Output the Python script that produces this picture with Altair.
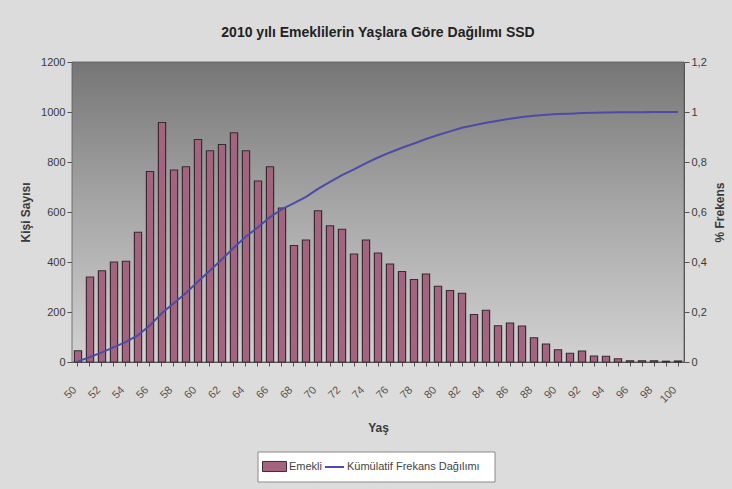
import altair as alt
import pandas as pd

# Age groups (x axis) and number of retirees per age
ages = [50, 51, 52, 53, 54, 55, 56, 57, 58, 59,
        60, 61, 62, 63, 64, 65, 66, 67, 68, 69,
        70, 71, 72, 73, 74, 75, 76, 77, 78, 79,
        80, 81, 82, 83, 84, 85, 86, 87, 88, 89,
        90, 91, 92, 93, 94, 95, 96, 97, 98, 99, 100]
emekli = [45, 340, 365, 400, 403, 519, 762, 958, 768, 781,
          890, 845, 870, 917, 845, 724, 781, 616, 466, 488,
          605, 545, 531, 432, 488, 436, 392, 362, 330, 352,
          303, 286, 275, 190, 207, 145, 156, 144, 97, 72,
          49, 35, 44, 24, 23, 13, 5, 5, 5, 3, 4]

left_ticks = [0, 200, 400, 600, 800, 1000, 1200]
right_ticks = [0, 0.2, 0.4, 0.6, 0.8, 1.0, 1.2]
bar_name = "Emekli"
line_name = "Kümülatif Frekans Dağılımı"

df = pd.DataFrame({"Yaş": ages, "Emekli": emekli})

W, H = 612, 300
FONT = "Liberation Sans Narrow, Liberation Sans, Arial"
BAR_FILL = "#a3647f"
BAR_STROKE = "#3b2b33"
LINE_COLOR = "#4c4ca6"
AXIS_COLOR = "#555555"

# Plot-area background: dark grey at the top fading to light grey
backdrop = alt.Chart(alt.Data(values=[{}])).mark_rect(
    fill=alt.Gradient(
        gradient="linear", x1=0, y1=0, x2=0, y2=1,
        stops=[alt.GradientStop(color="#767676", offset=0),
               alt.GradientStop(color="#a8a8a8", offset=0.5),
               alt.GradientStop(color="#d2d2d2", offset=1)],
    ),
    stroke="#5a5a5a", strokeWidth=0.8,
).encode(x=alt.value(0), x2=alt.value(W), y=alt.value(0), y2=alt.value(H))

# White frame that holds the two legends below the axis
legend_box = alt.Chart(alt.Data(values=[{}])).mark_rect(
    fill="white", stroke="#8a8a8a", strokeWidth=1,
).encode(x=alt.value(186), x2=alt.value(423), y=alt.value(390), y2=alt.value(420))

x_enc = alt.X(
    "Yaş:O",
    scale=alt.Scale(paddingInner=0.4, paddingOuter=0.2),
    axis=alt.Axis(
        title="Yaş", labelAngle=-45, labelAlign="right", labelBaseline="middle",
        labelExpr="datum.value % 2 == 0 ? datum.label : ''",
        labelPadding=22, labelOffset=-3, titlePadding=18,
        tickSize=4, domainColor=AXIS_COLOR, tickColor=AXIS_COLOR,
        labelColor="#555555",
    ),
)

legend_common = dict(
    title=None, orient="none", direction="horizontal",
    padding=0, labelFont=FONT, labelFontSize=11, labelColor="#444",
    labelOffset=2,
)

bars = alt.Chart(df).mark_bar(stroke=BAR_STROKE, strokeWidth=1.2).encode(
    x=x_enc,
    y=alt.Y("Emekli:Q", scale=alt.Scale(domain=[0, 1200]),
            axis=alt.Axis(title="Kişi Sayısı", values=left_ticks, grid=False,
                          format="d", titlePadding=8, domainColor=AXIS_COLOR,
                          tickColor=AXIS_COLOR)),
    fill=alt.Fill("seri:N",
                  scale=alt.Scale(domain=[bar_name], range=[BAR_FILL]),
                  legend=alt.Legend(
                      legendX=190, legendY=392,
                      symbolType="M-1,-0.42H1V0.42H-1Z", symbolSize=576,
                      symbolStrokeColor=BAR_STROKE, symbolStrokeWidth=1,
                      **legend_common)),
).transform_calculate(seri="'%s'" % bar_name)

# Cumulative share of retirees up to each age
cumulative = alt.Chart(df).transform_window(
    kumulatif="sum(Emekli)", sort=[alt.SortField("Yaş")],
    frame=[None, 0],
).transform_joinaggregate(
    toplam="sum(Emekli)"
).transform_calculate(
    frekans="datum.kumulatif / datum.toplam",
    seri="'%s'" % line_name,
).mark_line(strokeWidth=2).encode(
    x=x_enc,
    y=alt.Y("frekans:Q", scale=alt.Scale(domain=[0, 1.2]),
            axis=alt.Axis(title="% Frekens", orient="right", values=right_ticks,
                          grid=False, titleAngle=270, titlePadding=20,
                          labelExpr="replace(format(datum.value, '.1~f'), '.', ',')",
                          domainColor=AXIS_COLOR, tickColor=AXIS_COLOR)),
    stroke=alt.Stroke("seri:N",
                      scale=alt.Scale(domain=[line_name], range=[LINE_COLOR]),
                      legend=alt.Legend(
                          legendX=252, legendY=394.5,
                          symbolType="stroke", symbolSize=361,
                          symbolStrokeWidth=2,
                          **legend_common)),
)

chart = alt.layer(backdrop, legend_box, bars, cumulative).resolve_scale(
    y="independent"
).properties(
    width=W, height=H,
    title=alt.TitleParams("2010 yılı Emeklilerin Yaşlara Göre Dağılımı SSD",
                          font=FONT, fontSize=14, fontWeight="bold",
                          color="#222", offset=16),
    autosize=alt.AutoSizeParams(type="none"),
    padding={"left": 72, "top": 62, "right": 48, "bottom": 127},
    background="#dcdcdc",
).configure_view(stroke=None).configure_axis(
    labelFont=FONT, labelFontSize=11, labelColor="#3a3a3a",
    titleFont=FONT, titleFontSize=12, titleFontWeight="bold", titleColor="#3a3a3a",
)

chart.save("out.html", embed_options={"renderer": "svg", "actions": False})
